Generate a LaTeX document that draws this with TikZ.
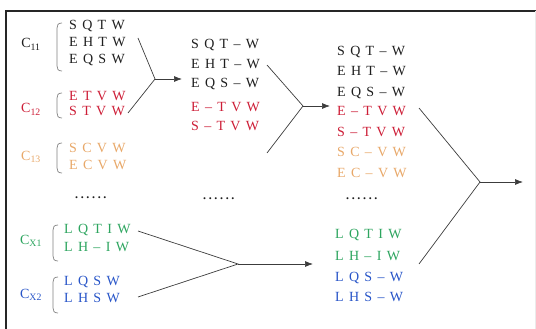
\documentclass[tikz,border=0pt]{standalone}
\usepackage{fontspec}
\setmainfont{Liberation Serif}
\newfontfamily\spfont[LetterSpace=38]{Liberation Serif}
\newfontfamily\dotfont[LetterSpace=22]{Liberation Serif}
\usetikzlibrary{arrows.meta}
\definecolor{tblack}{RGB}{30,30,30}
\definecolor{tred}{RGB}{205,30,55}
\definecolor{torange}{RGB}{232,168,105}
\definecolor{tgreen}{RGB}{45,165,95}
\definecolor{tblue}{RGB}{40,85,200}
\definecolor{lnc}{RGB}{60,60,60}
\begin{document}
\begin{tikzpicture}[x=1pt,y=-1pt,
  row/.style={anchor=base west,inner sep=0pt,font=\fontsize{14}{14}\spfont},
  lab/.style={anchor=base,inner sep=0pt,font=\fontsize{14}{14}\selectfont},
  dots/.style={anchor=base west,inner sep=0pt,font=\fontsize{12}{12}\dotfont\bfseries,text=tblack},
  conn/.style={draw=lnc,line width=0.7pt},
  arr/.style={draw=lnc,line width=0.7pt,-{Latex[length=8pt,width=6pt]}},
  brk/.style={draw=gray,line width=0.7pt}]
\useasboundingbox (0,0) rectangle (536,329);
\draw[line width=1.4pt,draw=black!85] (6,329) -- (6,11) -- (536,11);
\draw[line width=0.5pt,draw=black!8] (535,11) -- (535,329);

% brackets
\newcommand{\brkt}[3]{\draw[brk] (#1+5,#2) .. controls (#1+1,#2) and (#1,#2+2) .. (#1,#2+5) -- (#1,#3-5) .. controls (#1,#3-2) and (#1+1,#3) .. (#1+5,#3);}
\brkt{57}{23}{71}
\brkt{57}{93}{118}
\brkt{57}{143}{173}
\brkt{53}{225}{261}
\brkt{53}{277}{313}

% labels
\node[lab,text=tblack]  (l11) at (31,48) {C\textsubscript{11}};
\node[lab,text=tred]    (l12) at (31,113) {C\textsubscript{12}};
\node[lab,text=torange] (l13) at (31,160) {C\textsubscript{13}};
\node[lab,text=tgreen]  (lx1) at (31,244) {C\textsubscript{X1}};
\node[lab,text=tblue]   (lx2) at (31,298) {C\textsubscript{X2}};

% column 1
\node[row,text=tblack]  (a1) at (69,30) {SQTW};
\node[row,text=tblack]  (a2) at (69,47) {EHTW};
\node[row,text=tblack]  (a3) at (69,64) {EQSW};
\node[row,text=tred]    (a4) at (69,100) {ETVW};
\node[row,text=tred]    (a5) at (69,116) {STVW};
\node[row,text=torange] (a6) at (69,152) {SCVW};
\node[row,text=torange] (a7) at (69,169) {ECVW};
\node[dots] (ad) at (75,198) {......};
\node[row,text=tgreen]  (a8) at (64,233) {LQTIW};
\node[row,text=tgreen]  (a9) at (64,251) {LH–IW};
\node[row,text=tblue]   (a10) at (64,285) {LQSW};
\node[row,text=tblue]   (a11) at (64,302) {LHSW};

% column 2
\node[row,text=tblack] (b1) at (191,49) {SQT–W};
\node[row,text=tblack] (b2) at (191,69) {EHT–W};
\node[row,text=tblack] (b3) at (191,88) {EQS–W};
\node[row,text=tred]   (b4) at (191,111) {E–TVW};
\node[row,text=tred]   (b5) at (191,131) {S–TVW};
\node[dots] (bd) at (203,199) {......};

% column 3
\node[row,text=tblack]  (c1) at (337,56) {SQT–W};
\node[row,text=tblack]  (c2) at (337,76) {EHT–W};
\node[row,text=tblack]  (c3) at (337,96) {EQS–W};
\node[row,text=tred]    (c4) at (337,116) {E–TVW};
\node[row,text=tred]    (c5) at (337,136) {S–TVW};
\node[row,text=torange] (c6) at (337,156) {SC–VW};
\node[row,text=torange] (c7) at (337,177) {EC–VW};
\node[dots] (cd) at (346,199) {......};
\node[row,text=tgreen] (c8) at (335,238) {LQTIW};
\node[row,text=tgreen] (c9) at (335,260) {LH–IW};
\node[row,text=tblue]  (c10) at (335,281) {LQS–W};
\node[row,text=tblue]  (c11) at (335,301) {LHS–W};

% connectors
\coordinate (s1) at (138,38);  \coordinate (s2) at (128,113);
\coordinate (v1) at (155,79);  \coordinate (e1) at (182,79);
\coordinate (s3) at (267,65);  \coordinate (s4) at (267,153);
\coordinate (v2) at (303,106); \coordinate (e2) at (330,106);
\coordinate (s5) at (138,231); \coordinate (s6) at (138,297);
\coordinate (v3) at (238,264); \coordinate (e3) at (313,264);
\coordinate (s7) at (419,108); \coordinate (s8) at (419,264);
\coordinate (v4) at (480,182); \coordinate (e4) at (523,182);

\draw[conn] (s1) -- (v1) -- (s2);
\draw[arr] (v1) -- (e1);
\draw[conn] (s3) -- (v2) -- (s4);
\draw[arr] (v2) -- (e2);
\draw[conn] (s5) -- (v3) -- (s6);
\draw[arr] (v3) -- (e3);
\draw[conn] (s7) -- (v4) -- (s8);
\draw[arr] (v4) -- (e4);
\end{tikzpicture}
\end{document}
